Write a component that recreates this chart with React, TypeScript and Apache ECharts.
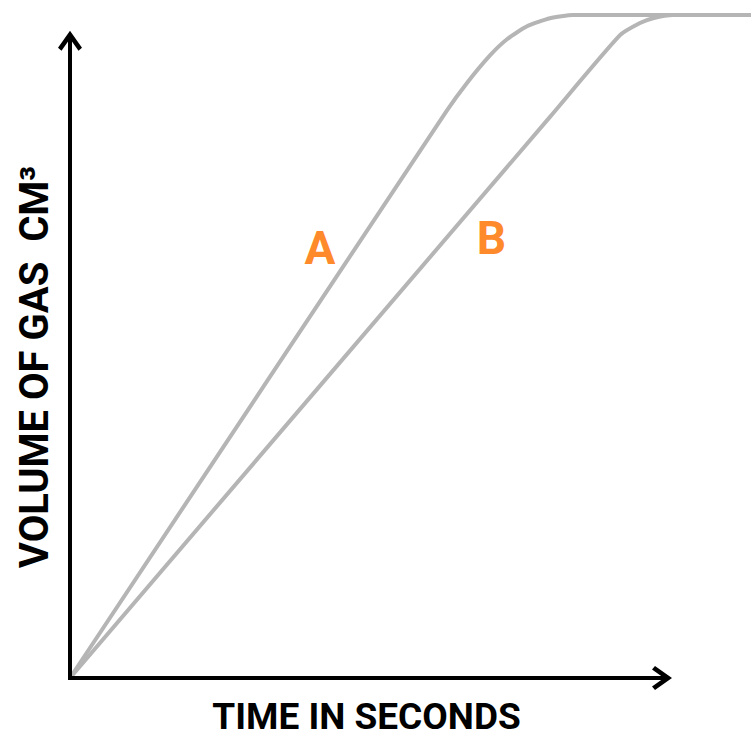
import React, { useEffect, useRef } from "react";
import * as echarts from "echarts";

// Time (s) / volume (cm³) readings for the two reactions
const seriesAX = [0, 37.7, 39.7, 42.0, 43.7, 45.7, 48.0, 50.3, 68.1];
const seriesAY = [0, 35.1, 36.8, 38.5, 39.5, 40.3, 40.8, 41.0, 41.0];
const seriesBX = [0, 48.0, 55.0, 57.0, 58.3, 60.3, 68.1];
const seriesBY = [0, 34.7, 39.75, 40.5, 40.8, 41.0, 41.0];
const seriesNames = ["A", "B"];
const labelCoords = [
  [25.0, 26.6],
  [42.15, 27.2],
];
// drawn axis arrows end (in data units)
const xArrowEnd = 59.2;
const yArrowEnd = 39.4;
const xAxisTitle = "TIME IN SECONDS";
const yAxisTitle = "VOLUME OF GAS  CM³";

const chevron = "path://M12,0 L24,17 L20.5,20 L12,8 L3.5,20 L0,17 Z";

export default function App() {
  const ref = useRef<HTMLDivElement>(null);
  useEffect(() => {
    document.body.style.margin = "0";
    if (!ref.current) return;
    const chart = echarts.init(ref.current, null, { renderer: "svg" });
    const zip = (xs: number[], ys: number[]) => xs.map((x, i) => [x, ys[i]]);
    const datasets = [zip(seriesAX, seriesAY), zip(seriesBX, seriesBY)];
    const titleFont = "Roboto, 'Noto Sans', sans-serif";
    chart.setOption({
      animation: false,
      backgroundColor: "#ffffff",
      grid: { left: 70, right: 0, top: 15, bottom: 62 },
      xAxis: {
        type: "value",
        min: 0,
        max: 68.1,
        name: xAxisTitle,
        nameLocation: "middle",
        nameGap: 20,
        nameTextStyle: {
          fontFamily: titleFont,
          fontWeight: "bold",
          fontSize: 37,
          color: "#000",
          padding: [0, 88, 0, 0],
        },
        axisLine: { show: false },
        axisTick: { show: false },
        axisLabel: { show: false },
        splitLine: { show: false },
      },
      yAxis: {
        type: "value",
        min: 0,
        max: 41,
        name: yAxisTitle,
        nameLocation: "middle",
        nameGap: 16,
        nameTextStyle: {
          fontFamily: titleFont,
          fontWeight: "bold",
          fontSize: 40,
          color: "#000",
          padding: [0, 41, 0, 0],
        },
        axisLine: { show: false },
        axisTick: { show: false },
        axisLabel: { show: false },
        splitLine: { show: false },
      },
      series: seriesNames.map((name, i) => ({
        name,
        type: "line",
        data: datasets[i],
        showSymbol: false,
        clip: false,
        smooth: 0.2,
        z: 2,
        lineStyle: { color: "#b5b5b5", width: 4, cap: "round", join: "round" },
        markPoint: {
          symbol: "circle",
          symbolSize: 1,
          itemStyle: { color: "rgba(0,0,0,0)" },
          label: {
            show: true,
            position: "inside",
            formatter: name,
            color: "#ff8a2b",
            fontFamily: titleFont,
            fontWeight: "bold",
            fontSize: 46,
          },
          data: [{ coord: labelCoords[i], value: name }],
        },
        markLine:
          i === 0
            ? {
                silent: true,
                symbol: ["none", chevron],
                symbolSize: [24, 20],
                label: { show: false },
                emphasis: { disabled: true },
                lineStyle: { color: "#000", width: 4, type: "solid", cap: "square" },
                data: [
                  [{ coord: [0, 0] }, { coord: [xArrowEnd, 0] }],
                  [{ coord: [0, 0] }, { coord: [0, yArrowEnd] }],
                ],
              }
            : undefined,
      })),
    });
    return () => chart.dispose();
  }, []);
  return <div ref={ref} style={{ width: 751, height: 740 }} />;
}
